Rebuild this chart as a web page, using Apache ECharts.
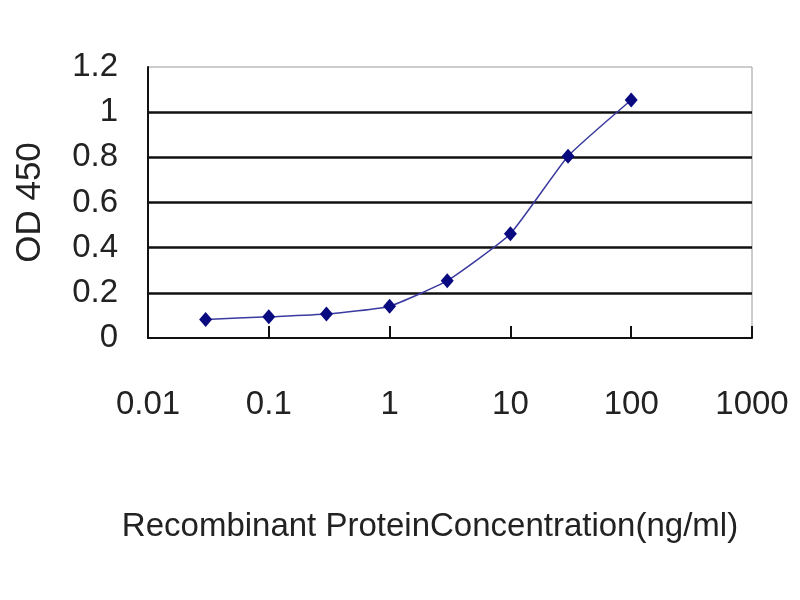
<!DOCTYPE html>
<html>
<head>
<meta charset="utf-8">
<title>OD 450 curve</title>
<script src="https://cdn.jsdelivr.net/npm/echarts@6/dist/echarts.min.js"></script>
<style>
    html, body { margin: 0; padding: 0; background: #fff; }
    #chart01 { width: 800px; height: 600px; }
</style>
</head>
<body>
<div id="chart01"></div>
<script>
// concentration (ng/ml) and OD 450
var concentrations = [0.03, 0.1, 0.3, 1, 3, 10, 30, 100];
var odValues = [0.082, 0.094, 0.106, 0.141, 0.254, 0.462, 0.805, 1.054];
var xTicks = [0.01, 0.1, 1, 10, 100, 1000];
var yTicks = [0, 0.2, 0.4, 0.6, 0.8, 1, 1.2];

var fontName = "'Liberation Sans', Arial, sans-serif";

function chart01(id) {
    var myChart = echarts.init(document.getElementById(id));
    var points = concentrations.map(function (c, i) {
        return [c, odValues[i]];
    });
    var option = {
        backgroundColor: '#fff',
        animation: false,
        grid: {
            left: 148,
            right: 48,
            top: 67,
            bottom: 262,
            show: true,
            borderColor: '#9a9a9a',
            borderWidth: 1
        },
        xAxis: {
            type: 'log',
            logBase: 10,
            min: xTicks[0],
            max: xTicks[xTicks.length - 1],
            name: 'Recombinant ProteinConcentration(ng/ml)',
            nameLocation: 'middle',
            nameGap: 172,
            nameTextStyle: {
                color: '#222',
                fontSize: 33,
                fontFamily: fontName,
                padding: [0, 40, 0, 0]   // title sits a bit left of the plot centre
            },
            axisLine: {
                lineStyle: { color: '#111', width: 2 }
            },
            axisTick: {
                inside: true,
                length: 12,
                lineStyle: { color: '#111', width: 2 }
            },
            minorTick: { show: false },
            splitLine: { show: false },
            axisLabel: {
                margin: 50,
                color: '#222',
                fontSize: 33,
                fontFamily: fontName,
                formatter: function (v) {
                    return String(v);
                }
            }
        },
        yAxis: {
            type: 'value',
            min: yTicks[0],
            max: yTicks[yTicks.length - 1],
            interval: 0.2,
            name: 'OD 450',
            nameLocation: 'middle',
            nameGap: 100,
            nameTextStyle: {
                color: '#222',
                fontSize: 35,
                fontFamily: fontName
            },
            axisLine: {
                show: true,
                lineStyle: { color: '#111', width: 2 }
            },
            axisTick: { show: false },
            splitLine: {
                show: true,
                showMinLine: false,
                showMaxLine: false,
                lineStyle: { color: '#111', width: 2.5 }
            },
            axisLabel: {
                margin: 30,
                color: '#222',
                fontSize: 33,
                fontFamily: fontName
            }
        },
        series: [
            {
                type: 'line',
                data: points,
                smooth: 0.15,
                symbol: 'diamond',
                symbolSize: [13, 15],
                lineStyle: { color: '#3a3aa0', width: 1.5 },
                itemStyle: { color: '#0a0a80' }
            }
        ]
    };
    myChart.setOption(option);
    return myChart;
}

var chartInit01 = chart01('chart01');
window.addEventListener('resize', function () {
    chartInit01.resize();
});
</script>
</body>
</html>
